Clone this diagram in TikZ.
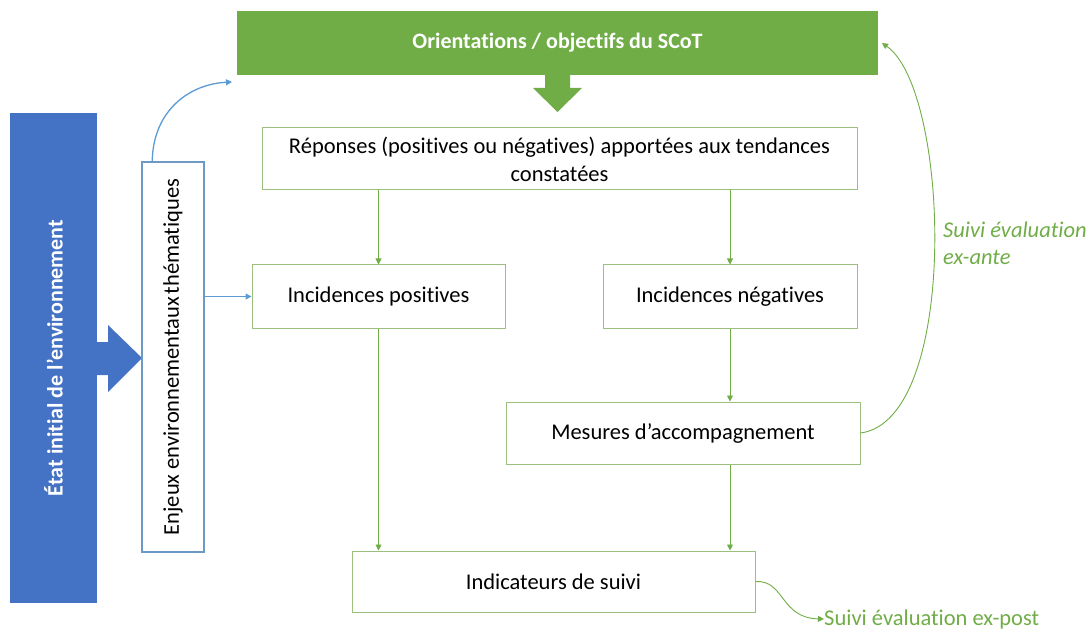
\documentclass[tikz,border=0pt]{standalone}
\usepackage{fontspec}
\setmainfont[RawFeature={-liga,-clig,-calt,-dlig}]{Carlito}
\usetikzlibrary{arrows.meta,calc}
\definecolor{gfill}{HTML}{70AD47}
\definecolor{gline}{HTML}{70AD47}
\definecolor{boxline}{HTML}{9CBF80}
\definecolor{bfill}{HTML}{4472C4}
\definecolor{bline}{HTML}{5B9BD5}
\definecolor{enjline}{HTML}{6C9AC4}
\tikzset{
  box/.style={draw=boxline, line width=1pt, fill=white, inner sep=0pt, align=center, text=black},
  garrow/.style={draw=gline, line width=0.9pt, -{Triangle[width=6pt,length=6pt]}},
  barrow/.style={draw=bline, line width=1.3pt, -{Triangle[width=6pt,length=6pt]}},
  fs/.style={font=\fontsize{22.5}{28}\selectfont},
}
\begin{document}
\begin{tikzpicture}[x=1pt,y=-1pt,fs]
\useasboundingbox (0,0) rectangle (1090,631);
% title bar
\node[fill=gfill, minimum width=641pt, minimum height=64pt, inner sep=0pt, text=white, font=\fontsize{22}{28}\selectfont\bfseries] (bar) at (557.5,43) {Orientations / objectifs du SCoT};
\fill[gfill] (545,75) -- (570,75) -- (570,88) -- (582,88) -- (557.5,112) -- (533,88) -- (545,88) -- cycle;
% boxes
\node[box, minimum width=595pt, minimum height=62pt] (rep) at (559.5,159) {Réponses (positives ou négatives) apportées aux tendances\\constatées};
\node[box, minimum width=253pt, minimum height=63pt] (ipos) at (378.5,296.5) {Incidences positives};
\node[box, minimum width=254pt, minimum height=63pt] (ineg) at (730,296.5) {Incidences négatives};
\node[box, minimum width=354pt, minimum height=62pt] (mes) at (683,433) {Mesures d’accompagnement};
\node[box, minimum width=403pt, minimum height=61pt] (ind) at (553.5,581.5) {Indicateurs de suivi};
% left side
\node[fill=bfill, minimum width=87pt, minimum height=490pt, inner sep=0pt, text=white, font=\fontsize{22}{28}\selectfont\bfseries] (etat) at (53.5,358) {\rotatebox{90}{État initial de l’environnement}};
\fill[bfill] (97,342) -- (108,342) -- (108,325) -- (142,358) -- (108,392) -- (108,375) -- (97,375) -- cycle;
\node[draw=enjline, line width=1.5pt, fill=white, minimum width=62pt, minimum height=390pt, inner sep=0pt] (enj) at (173,357) {\rotatebox{90}{Enjeux environnementaux\hspace{0.12em}thématiques}};
% green connectors
\draw[garrow] (ipos.north |- rep.south) -- (ipos.north);
\draw[garrow] (ineg.north |- rep.south) -- (ineg.north);
\draw[garrow] (ineg.south) -- (ineg.south |- mes.north);
\draw[garrow] (ipos.south) -- (ipos.south |- ind.north);
\draw[garrow] (ineg.south |- mes.south) -- (ineg.south |- ind.north);
% blue connectors
\coordinate (enjtop) at ($(enj.north west)+(11,0)$);
\coordinate (bartip) at (232,82);
\draw[barrow] (enjtop) .. controls (153,110) and (190,84) .. (bartip);
\draw[barrow] (enj.east |- ipos.west) -- (ipos.west);
% feedback curves
\coordinate (antetip) at (882,43);
\draw[garrow] (mes.east) .. controls (960,420) and (950,90) .. (antetip);
\node[anchor=north west, align=left, text=gline, font=\fontsize{22.5}{27}\selectfont\itshape, inner sep=0pt] (ante) at (943,222) {Suivi évaluation\\ex-ante};
\node[anchor=west, text=gline, inner sep=0pt] (post) at (824,619) {Suivi évaluation ex-post};
\draw[garrow] (ind.east) .. controls (785,580) and (780,618) .. (post.west);
\end{tikzpicture}
\end{document}
